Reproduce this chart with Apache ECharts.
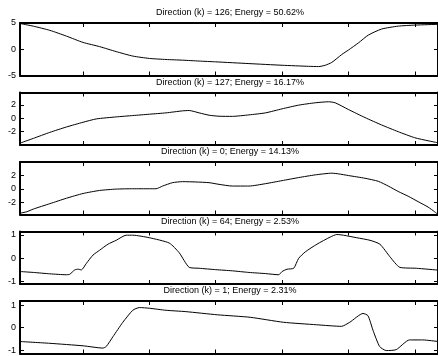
<!DOCTYPE html>
<html><head><meta charset="utf-8">
<script src="https://cdn.jsdelivr.net/npm/echarts@6/dist/echarts.min.js"></script>
<style>html,body{margin:0;padding:0;background:#fff}#c{width:438px;height:356px}</style>
</head><body><div id="c"></div>
<script>
// ---- data ----
const panelTitles = [
  'Direction (k) = 126; Energy = 50.62%',
  'Direction (k) = 127; Energy = 16.17%',
  'Direction (k) = 0; Energy = 14.13%',
  'Direction (k) = 64; Energy = 2.53%',
  'Direction (k) = 1; Energy = 2.31%'
];
const xTickValues = [20, 40, 60, 80, 100, 120];
const yTickValues1 = [-5, 0, 5];
const yTickValues2 = [-2, 0, 2];
const yTickValues3 = [-2, 0, 2];
const yTickValues4 = [-1, 0, 1];
const yTickValues5 = [-1, 0, 1];

const dir126X = [1, 5, 10, 15, 20, 25, 30, 35, 40, 45, 50, 55, 60, 70, 80, 88, 91, 93, 95, 98, 100, 103, 106, 110, 115, 120, 127];
const dir126Y = [4.9, 4.4, 3.6, 2.5, 1.3, 0.5, -0.45, -1.3, -1.75, -1.95, -2.08, -2.25, -2.4, -2.73, -3.05, -3.25, -3.3, -3.05, -2.5, -1.0, -0.15, 1.2, 2.7, 3.85, 4.4, 4.6, 4.75];

const dir127X = [1, 5, 10, 15, 20, 24, 30, 35, 40, 45, 50, 52, 55, 58, 61, 65, 70, 75, 80, 85, 90, 94, 96, 100, 105, 110, 115, 120, 124, 127];
const dir127Y = [-3.7, -3.0, -2.1, -1.3, -0.6, -0.1, 0.2, 0.4, 0.6, 0.8, 1.1, 1.15, 0.8, 0.45, 0.3, 0.28, 0.5, 0.8, 1.4, 1.95, 2.3, 2.45, 2.3, 1.3, 0.1, -1.0, -2.0, -2.9, -3.35, -3.65];

const dir0X = [1, 3, 5, 10, 15, 20, 25, 30, 35, 40, 42, 44, 47, 50, 54, 58, 61, 65, 70, 75, 80, 85, 90, 95, 97, 100, 105, 109, 112, 115, 118, 121, 124, 126, 127];
const dir0Y = [-3.6, -3.4, -3.0, -2.2, -1.4, -0.7, -0.25, -0.05, 0.0, 0.0, 0.0, 0.4, 0.9, 1.05, 1.0, 0.9, 0.65, 0.4, 0.4, 0.75, 1.2, 1.65, 2.05, 2.3, 2.2, 1.95, 1.55, 1.1, 0.4, -0.4, -1.1, -1.9, -2.7, -3.4, -3.8];

const dir64X = [1, 5, 10, 15, 16, 17.5, 18.5, 19.5, 21, 23, 25, 27.5, 30, 33, 35, 40, 46, 49, 52, 55, 60, 65, 70, 75, 79, 80, 81.5, 83.5, 85, 87, 90.5, 94.5, 96.5, 98.5, 102.5, 106.5, 109.5, 112.5, 115.5, 120.5, 127];
const dir64Y = [-0.58, -0.62, -0.68, -0.72, -0.7, -0.51, -0.48, -0.51, -0.23, 0.13, 0.34, 0.6, 0.77, 0.99, 0.99, 0.88, 0.65, 0.23, -0.4, -0.44, -0.5, -0.55, -0.62, -0.67, -0.72, -0.58, -0.48, -0.44, -0.01, 0.27, 0.6, 0.91, 1.02, 0.99, 0.88, 0.77, 0.6, 0.06, -0.4, -0.44, -0.52];

const dir1X = [1, 10, 20, 26, 27, 29, 32, 35, 37, 40, 45, 51, 60.5, 70.4, 80.4, 90.4, 97.9, 100.4, 104.4, 105.9, 107.4, 109.4, 111.4, 114.4, 118.4, 122.4, 127];
const dir1Y = [-0.61, -0.69, -0.8, -0.9, -0.83, -0.4, 0.24, 0.77, 0.89, 0.86, 0.77, 0.71, 0.57, 0.46, 0.24, 0.13, 0.06, 0.24, 0.63, 0.53, -0.11, -0.83, -1.01, -0.97, -0.54, -0.54, -0.61];

// ---- layout / axes ----
const panels = [
  {title: panelTitles[0], xs: dir126X, ys: dir126Y, min: -5, max: 5, ticks: yTickValues1},
  {title: panelTitles[1], xs: dir127X, ys: dir127Y, min: -3.98, max: 3.83, ticks: yTickValues2},
  {title: panelTitles[2], xs: dir0X, ys: dir0Y, min: -3.8, max: 3.95, ticks: yTickValues3},
  {title: panelTitles[3], xs: dir64X, ys: dir64Y, min: -1.12, max: 1.15, ticks: yTickValues4},
  {title: panelTitles[4], xs: dir1X, ys: dir1Y, min: -1.14, max: 1.18, ticks: yTickValues5}
];
const tops = [23, 92.5, 162, 231.5, 301];
const H = 52.5;
const FONT = '"Liberation Sans", Arial, Helvetica, sans-serif';
const axisLineStyle = {show: true, onZero: false, lineStyle: {color: '#000', width: 2}};

const option = {animation: false, backgroundColor: '#fff', title: [], grid: [], xAxis: [], yAxis: [], series: []};
panels.forEach((p, i) => {
  option.title.push({
    text: p.title, left: 230, top: tops[i] - 10, textAlign: 'center', textVerticalAlign: 'middle', padding: 0,
    textStyle: {fontSize: 9, fontWeight: 'normal', color: '#000', fontFamily: FONT}
  });
  option.grid.push({left: 20, right: -2, top: tops[i], height: H});
  ['bottom', 'top'].forEach(pos => option.xAxis.push({
    gridIndex: i, type: 'value', min: 1, max: 127, position: pos,
    axisLine: axisLineStyle,
    axisTick: {show: true, inside: true, length: 4, customValues: xTickValues, lineStyle: {color: '#000', width: 1}},
    axisLabel: {show: false}, splitLine: {show: false}
  }));
  ['left', 'right'].forEach(pos => option.yAxis.push({
    gridIndex: i, type: 'value', min: p.min, max: p.max, position: pos,
    axisLine: axisLineStyle,
    axisTick: {show: true, inside: true, length: 4, customValues: p.ticks, lineStyle: {color: '#000', width: 1}},
    axisLabel: pos === 'left'
      ? {show: true, customValues: p.ticks, fontSize: 9, color: '#000', margin: 4, fontFamily: FONT}
      : {show: false},
    splitLine: {show: false}
  }));
  option.series.push({
    type: 'line', xAxisIndex: 2 * i, yAxisIndex: 2 * i,
    data: p.xs.map((x, k) => [x, p.ys[k]]),
    symbol: 'none', smooth: 0.2,
    lineStyle: {color: '#000', width: 1}
  });
});
const chart = echarts.init(document.getElementById('c'), null, {renderer: 'canvas'});
chart.setOption(option);
</script>
</body></html>
